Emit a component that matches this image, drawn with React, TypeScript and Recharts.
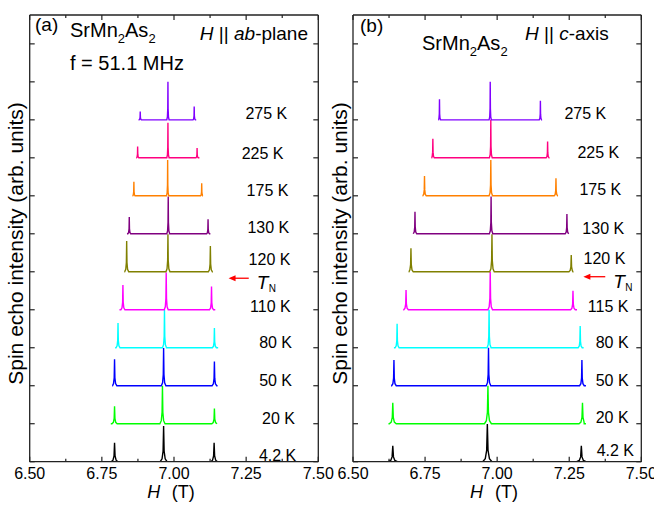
import React from 'react';
import { LineChart, Line, XAxis, YAxis, ReferenceDot, ReferenceLine } from 'recharts';

const FONT = '"Liberation Sans", Arial, Helvetica, sans-serif';

// ---------- axes ----------
const H_TICKS = [6.5, 6.625, 6.75, 6.875, 7.0, 7.125, 7.25, 7.375, 7.5];
const H_DOMAIN: [number, number] = [6.5, 7.5];
const OFFSET_TICKS = [0, 1, 2, 3, 4, 5, 6, 7, 8, 9, 10, 11];
const OFFSET_DOMAIN: [number, number] = [0, 11.76];

// single-line template used to draw each resonance line (relative units)
const PEAK_SHAPE_X = [-1, -0.45, -0.15, 0, 0.15, 0.45, 1];
const PEAK_SHAPE_Y = [0, 0.08, 0.3, 1, 0.3, 0.08, 0];

// ---------- panel (a): H || ab-plane (bottom to top) ----------
const tempsA = ['4.2 K', '20 K', '50 K', '80 K', '110 K', '120 K', '130 K', '175 K', '225 K', '275 K'];
const colorsA = ['#000000', '#00FF00', '#0000FF', '#00FFFF', '#FF00FF', '#808000', '#800080', '#FF8000', '#FF0080', '#8000FF'];
const lowPeakA = [6.794, 6.794, 6.794, 6.806, 6.823, 6.836, 6.845, 6.861, 6.874, 6.883];
const midPeakA = [6.964, 6.960, 6.964, 6.967, 6.973, 6.979, 6.980, 6.978, 6.979, 6.979];
const highPeakA = [7.139, 7.140, 7.140, 7.140, 7.130, 7.126, 7.118, 7.096, 7.080, 7.070];
const lowHeightA = [0.50, 0.46, 0.70, 0.65, 0.65, 0.81, 0.44, 0.37, 0.30, 0.22];
const midHeightA = [0.94, 1.0, 0.99, 1.0, 0.98, 0.99, 0.98, 0.94, 0.92, 1.0];
const highHeightA = [0.50, 0.40, 0.64, 0.52, 0.61, 0.68, 0.38, 0.33, 0.26, 0.35];
const startA = [6.779, 6.781, 6.787, 6.796, 6.811, 6.828, 6.837, 6.856, 6.869, 6.877];
const endA = [7.151, 7.149, 7.151, 7.153, 7.143, 7.135, 7.126, 7.099, 7.088, 7.077];
const widthA = [0.012, 0.009, 0.008, 0.007, 0.007, 0.007, 0.005, 0.004, 0.004, 0.004];
const labelXA = [7.359, 7.362, 7.352, 7.352, 7.334, 7.331, 7.327, 7.324, 7.307, 7.320];
const labelYA = [0.18, 1.15, 2.15, 3.15, 4.10, 5.34, 6.18, 7.15, 8.13, 9.17];
const arrowA = { x1: 7.189, x2: 7.259, y: 4.83 };

// ---------- panel (b): H || c-axis (bottom to top) ----------
const tempsB = ['4.2 K', '20 K', '50 K', '80 K', '115 K', '120 K', '130 K', '175 K', '225 K', '275 K'];
const colorsB = ['#000000', '#00FF00', '#0000FF', '#00FFFF', '#FF00FF', '#808000', '#800080', '#FF8000', '#FF0080', '#8000FF'];
const lowPeakB = [6.638, 6.638, 6.642, 6.653, 6.684, 6.701, 6.715, 6.748, 6.777, 6.800];
const midPeakB = [6.966, 6.968, 6.970, 6.972, 6.976, 6.982, 6.979, 6.978, 6.978, 6.976];
const highPeakB = [7.292, 7.296, 7.294, 7.288, 7.263, 7.257, 7.242, 7.204, 7.175, 7.150];
const lowHeightB = [0.42, 0.55, 0.68, 0.63, 0.52, 0.62, 0.58, 0.52, 0.50, 0.54];
const midHeightB = [0.99, 1.0, 1.0, 1.0, 1.0, 0.99, 0.98, 0.94, 1.0, 1.0];
const highHeightB = [0.42, 0.55, 0.68, 0.57, 0.50, 0.44, 0.52, 0.46, 0.43, 0.50];
const startB = [6.620, 6.623, 6.632, 6.642, 6.674, 6.694, 6.709, 6.741, 6.773, 6.797];
const endB = [7.310, 7.302, 7.308, 7.300, 7.277, 7.263, 7.248, 7.211, 7.182, 7.156];
const widthB = [0.016, 0.012, 0.008, 0.007, 0.008, 0.008, 0.006, 0.006, 0.005, 0.004];
const labelXB = [7.410, 7.399, 7.399, 7.399, 7.385, 7.372, 7.368, 7.358, 7.351, 7.306];
const labelYB = [0.31, 1.18, 2.15, 3.15, 4.10, 5.36, 6.15, 7.18, 8.15, 9.17];
const arrowB = { x1: 7.299, x2: 7.375, y: 4.87 };

type Pt = { x: number; y: number };

function buildSpectrum(offset: number, start: number, end: number, peaks: number[][], width: number): Pt[] {
  const pts: Pt[] = [{ x: start, y: offset }];
  peaks.forEach(([p, h]) => {
    PEAK_SHAPE_X.forEach((dx, k) => {
      pts.push({ x: p + dx * width, y: offset + PEAK_SHAPE_Y[k] * h });
    });
  });
  pts.push({ x: end, y: offset });
  pts.sort((a, b) => a.x - b.x);
  return pts;
}

function makeSpectra(temps: string[], colors: string[], low: number[], mid: number[], high: number[],
  lh: number[], mh: number[], hh: number[], st: number[], en: number[], w: number[]) {
  return temps.map((t, i) => ({
    name: t,
    color: colors[i],
    points: buildSpectrum(i, st[i], en[i], [[low[i], lh[i]], [mid[i], mh[i]], [high[i], hh[i]]], w[i]),
  }));
}

const spectraA = makeSpectra(tempsA, colorsA, lowPeakA, midPeakA, highPeakA, lowHeightA, midHeightA, highHeightA, startA, endA, widthA);
const spectraB = makeSpectra(tempsB, colorsB, lowPeakB, midPeakB, highPeakB, lowHeightB, midHeightB, highHeightB, startB, endB, widthB);

const AXIS_COLOR = '#222';
const AXIS_LINE = { stroke: AXIS_COLOR, strokeWidth: 1.3 };

const isMajor = (v: number) => Math.abs(v * 4 - Math.round(v * 4)) < 1e-6;

const BottomTick = (props: any) => {
  const { x, y, payload } = props;
  const v = payload.value as number;
  const major = isMajor(v);
  return (
    <g>
      <line x1={x} x2={x} y1={y} y2={y - (major ? 5 : 3)} stroke={AXIS_COLOR} strokeWidth={1.2} />
      {major && (
        <text x={x} y={y + 17.5} textAnchor="middle" fontSize={16} fontFamily={FONT} fill="#000">
          {v.toFixed(2)}
        </text>
      )}
    </g>
  );
};

const TopTick = (props: any) => {
  const { x, y, payload } = props;
  const major = isMajor(payload.value);
  return <line x1={x} x2={x} y1={y} y2={y + (major ? 5 : 3)} stroke={AXIS_COLOR} strokeWidth={1.2} />;
};

const LeftTick = (props: any) => {
  const { x, y } = props;
  return <line x1={x} x2={x + 5} y1={y} y2={y} stroke={AXIS_COLOR} strokeWidth={1.2} />;
};

const RightTick = (props: any) => {
  const { x, y } = props;
  return <line x1={x} x2={x - 5} y1={y} y2={y} stroke={AXIS_COLOR} strokeWidth={1.2} />;
};

const ArrowShape = (p: any) => {
  const xl = Math.min(p.x1, p.x2);
  const xr = Math.max(p.x1, p.x2);
  const y = p.y1;
  return (
    <g>
      <line x1={xl + 5} y1={y} x2={xr} y2={y} stroke="#FF0000" strokeWidth={1.3} />
      <polygon points={`${xl},${y} ${xl + 7},${y - 3} ${xl + 7},${y + 3}`} fill="#FF0000" />
      <text x={xr + 8} y={y + 11} fontSize={19} fontStyle="italic" fontFamily={FONT} fill="#000">T</text>
      <text x={xr + 20} y={y + 14} fontSize={10} fontFamily={FONT} fill="#000">N</text>
    </g>
  );
};

type PanelProps = {
  margin: { top: number; left: number; right: number; bottom: number };
  spectra: { name: string; color: string; points: Pt[] }[];
  labelX: number[];
  labelY: number[];
  arrow: { x1: number; x2: number; y: number };
};

function Panel({ margin, spectra, labelX, labelY, arrow }: PanelProps) {
  return (
    <div style={{ position: 'absolute', left: 0, top: 0 }}>
      <LineChart width={654} height={506} margin={margin}>
        <XAxis xAxisId="b" type="number" dataKey="x" domain={H_DOMAIN} ticks={H_TICKS} interval={0}
          allowDataOverflow height={1} tickSize={0} tickMargin={0} tickLine={false}
          axisLine={AXIS_LINE} tick={BottomTick} orientation="bottom" />
        <XAxis xAxisId="t" type="number" dataKey="x" domain={H_DOMAIN} ticks={H_TICKS} interval={0}
          allowDataOverflow height={1} tickSize={0} tickMargin={0} tickLine={false}
          axisLine={AXIS_LINE} tick={TopTick} orientation="top" />
        <YAxis yAxisId="l" type="number" domain={OFFSET_DOMAIN} ticks={OFFSET_TICKS} interval={0}
          allowDataOverflow width={1} tickSize={0} tickMargin={0} tickLine={false}
          axisLine={AXIS_LINE} tick={LeftTick} orientation="left" />
        <YAxis yAxisId="r" type="number" domain={OFFSET_DOMAIN} ticks={OFFSET_TICKS} interval={0}
          allowDataOverflow width={1} tickSize={0} tickMargin={0} tickLine={false}
          axisLine={AXIS_LINE} tick={RightTick} orientation="right" />
        {spectra.map((s) => (
          <Line key={s.name} xAxisId="b" yAxisId="l" data={s.points} dataKey="y" type="linear"
            stroke={s.color} strokeWidth={1.4} dot={false} activeDot={false} isAnimationActive={false} />
        ))}
        {spectra.map((s, i) => (
          <ReferenceDot key={'lbl' + s.name} xAxisId="b" yAxisId="l" x={labelX[i]} y={labelY[i]} r={0}
            fill="none" stroke="none"
            label={{ value: s.name, position: 'center', fill: '#000', fontSize: 16, fontFamily: FONT }} />
        ))}
        <ReferenceLine xAxisId="b" yAxisId="l" segment={[{ x: arrow.x1, y: arrow.y }, { x: arrow.x2, y: arrow.y }]}
          shape={ArrowShape} />
      </LineChart>
    </div>
  );
}

export default function App() {
  return (
    <div style={{ position: 'absolute', left: 0, top: 0, width: 654, height: 506, background: '#fff', fontFamily: FONT }}>
      <Panel margin={{ top: 14, left: 28.7, right: 334.7, bottom: 43.3 }} spectra={spectraA}
        labelX={labelXA} labelY={labelYA} arrow={arrowA} />
      <Panel margin={{ top: 14, left: 352, right: 11.7, bottom: 43.3 }} spectra={spectraB}
        labelX={labelXB} labelY={labelYB} arrow={arrowB} />
      <svg width={654} height={506} style={{ position: 'absolute', left: 0, top: 0, pointerEvents: 'none' }}
        fontFamily={FONT} fill="#000">
        {/* panel (a) */}
        <text x={35} y={31} fontSize={19}>(a)</text>
        <text x={70} y={37} fontSize={20}>SrMn<tspan dy={6} fontSize={13}>2</tspan><tspan dy={-6}>As</tspan><tspan dy={6} fontSize={13}>2</tspan></text>
        <text x={70} y={70} fontSize={20}>f = 51.1 MHz</text>
        <text x={308} y={39.5} fontSize={19} textAnchor="end"><tspan fontStyle="italic">H</tspan> || <tspan fontStyle="italic">ab</tspan>-plane</text>
        {/* panel (b) */}
        <text x={360} y={31.5} fontSize={19}>(b)</text>
        <text x={422} y={50} fontSize={20}>SrMn<tspan dy={6} fontSize={13}>2</tspan><tspan dy={-6}>As</tspan><tspan dy={6} fontSize={13}>2</tspan></text>
        <text x={525} y={40} fontSize={19}><tspan fontStyle="italic">H</tspan> || <tspan fontStyle="italic">c</tspan>-axis</text>
        {/* axis titles */}
        <text y={498} fontSize={18}><tspan x={147.3} fontStyle="italic">H</tspan><tspan x={171.7}>(T)</tspan></text>
        <text y={498} fontSize={18}><tspan x={470} fontStyle="italic">H</tspan><tspan x={495}>(T)</tspan></text>
        <text transform="translate(23,243.5) rotate(-90)" textAnchor="middle" fontSize={21}>Spin echo intensity (arb. units)</text>
        <text transform="translate(346.5,243.5) rotate(-90)" textAnchor="middle" fontSize={21}>Spin echo intensity (arb. units)</text>
      </svg>
    </div>
  );
}
